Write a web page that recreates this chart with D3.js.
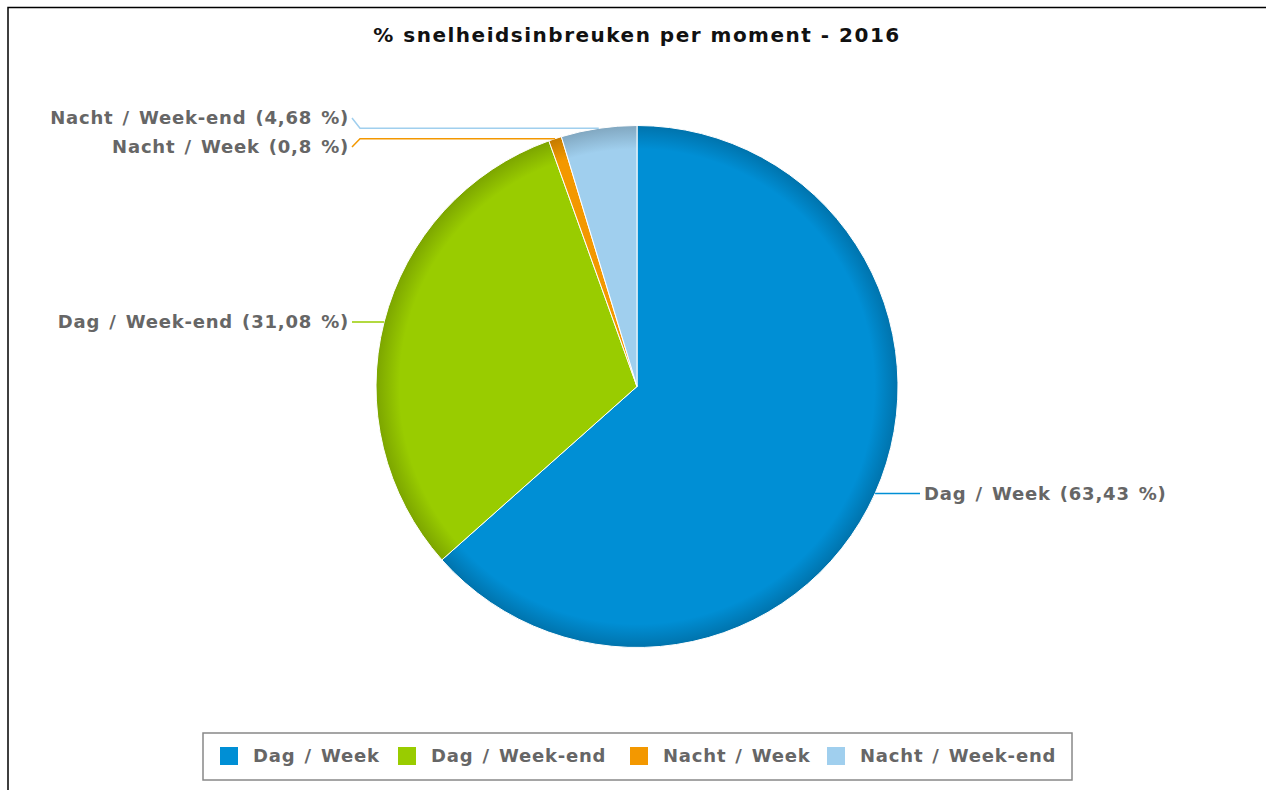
<!DOCTYPE html>
<html>
<head>
<meta charset="utf-8">
<script src="https://cdn.jsdelivr.net/npm/d3@7"></script>
<style>
  body { margin: 0; background: #fff; }
  text { font-family: "DejaVu Sans", Verdana, sans-serif; font-weight: bold; }
</style>
</head>
<body>
<div id="chart"></div>
<script>
// data
const categories = ["Dag / Week", "Dag / Week-end", "Nacht / Week", "Nacht / Week-end"];
const shares = [63.43, 31.08, 0.8, 4.68];
const shareLabels = ["63,43", "31,08", "0,8", "4,68"];
const colors = ["#008fd5", "#99cc00", "#f39800", "#a0cfee"];
const title = "% snelheidsinbreuken per moment - 2016";

const width = 1266, height = 790;
const cx = 637, cy = 386.5, radius = 261;

const svg = d3.select("#chart").append("svg")
    .attr("width", width)
    .attr("height", height);

// frame (only top + left visible in the picture)
svg.append("path")
    .attr("d", `M8,${height + 5} L8,7.5 L${width + 5},7.5`)
    .attr("fill", "none")
    .attr("stroke", "#000")
    .attr("stroke-width", 1.5);

svg.append("text")
    .attr("x", cx)
    .attr("y", 42)
    .attr("text-anchor", "middle")
    .attr("font-size", 20)
    .attr("letter-spacing", 1.5)
    .attr("fill", "#111")
    .text(title);

const data = categories.map((c, i) => ({ name: c, value: shares[i], label: shareLabels[i], color: colors[i] }));

// rim shading per slice (gradient in the pie group's own coords)
const defs = svg.append("defs");
data.forEach((d, i) => {
    const g = defs.append("radialGradient")
        .attr("id", "grad" + i)
        .attr("gradientUnits", "userSpaceOnUse")
        .attr("cx", 0).attr("cy", 0).attr("r", radius);
    g.append("stop").attr("offset", 0).attr("stop-color", d.color);
    g.append("stop").attr("offset", 0.91).attr("stop-color", d.color);
    g.append("stop").attr("offset", 1).attr("stop-color", d3.color(d.color).darker(0.6));
});

const pie = d3.pie().sort(null).value(d => d.value);
const arcs = pie(data);
const arc = d3.arc().innerRadius(0).outerRadius(radius);

const pieG = svg.append("g").attr("transform", `translate(${cx},${cy})`);
pieG.selectAll("path")
    .data(arcs)
    .join("path")
    .attr("d", arc)
    .attr("fill", (d, i) => `url(#grad${i})`)
    .attr("stroke", "#fff")
    .attr("stroke-width", 1);

// label placement
const labelDist = 26;
const lineH = 29;
const items = arcs.map(a => {
    const mid = (a.startAngle + a.endAngle) / 2;
    const ex = cx + radius * Math.sin(mid);
    const ey = cy - radius * Math.cos(mid);
    const right = Math.sin(mid) > 0;
    return { a, ex, ey, right, y: ey, d: a.data };
});

// push overlapping labels apart, per side
[true, false].forEach(side => {
    const grp = items.filter(it => it.right === side).sort((p, q) => p.y - q.y);
    for (let k = 0; k < 20; k++) {
        for (let j = 1; j < grp.length; j++) {
            const gap = grp[j].y - grp[j - 1].y;
            if (gap < lineH) {
                const push = (lineH - gap) / 2;
                grp[j].y += push - 1;
                grp[j - 1].y -= push + 1;
            }
        }
    }
});

const labG = svg.append("g");
items.forEach(it => {
    const lx = it.right ? cx + radius + labelDist : cx - radius - labelDist - 1;
    const ly = it.y;
    const sx = it.right ? lx - 4 : lx + 3;
    const kx = it.right ? sx - 8 : sx + 8;
    labG.append("path")
        .attr("d", `M${sx},${ly} L${kx},${it.ey} L${it.ex},${it.ey}`)
        .attr("fill", "none")
        .attr("stroke", it.d.color)
        .attr("stroke-width", 1.5);
    labG.append("text")
        .attr("x", lx)
        .attr("y", ly)
        .attr("dy", "0.36em")
        .attr("text-anchor", it.right ? "start" : "end")
        .attr("font-size", 18)
        .attr("letter-spacing", 0.8)
        .attr("word-spacing", 2)
        .attr("fill", "#666")
        .text(`${it.d.name} (${it.d.label} %)`);
});

// legend
const legX = 203, legY = 733, legW = 869, legH = 47;
svg.append("rect")
    .attr("x", legX).attr("y", legY)
    .attr("width", legW).attr("height", legH)
    .attr("fill", "#fff")
    .attr("stroke", "#888")
    .attr("stroke-width", 1.5);

const legendX = [220, 398, 630, 827];
const legG = svg.append("g");
data.forEach((d, i) => {
    legG.append("rect")
        .attr("x", legendX[i]).attr("y", legY + 14)
        .attr("width", 18).attr("height", 18)
        .attr("fill", d.color);
    legG.append("text")
        .attr("x", legendX[i] + 33)
        .attr("y", legY + 23)
        .attr("dy", "0.36em")
        .attr("font-size", 18)
        .attr("letter-spacing", 0.8)
        .attr("word-spacing", 2)
        .attr("fill", "#666")
        .text(d.name);
});
</script>
</body>
</html>
